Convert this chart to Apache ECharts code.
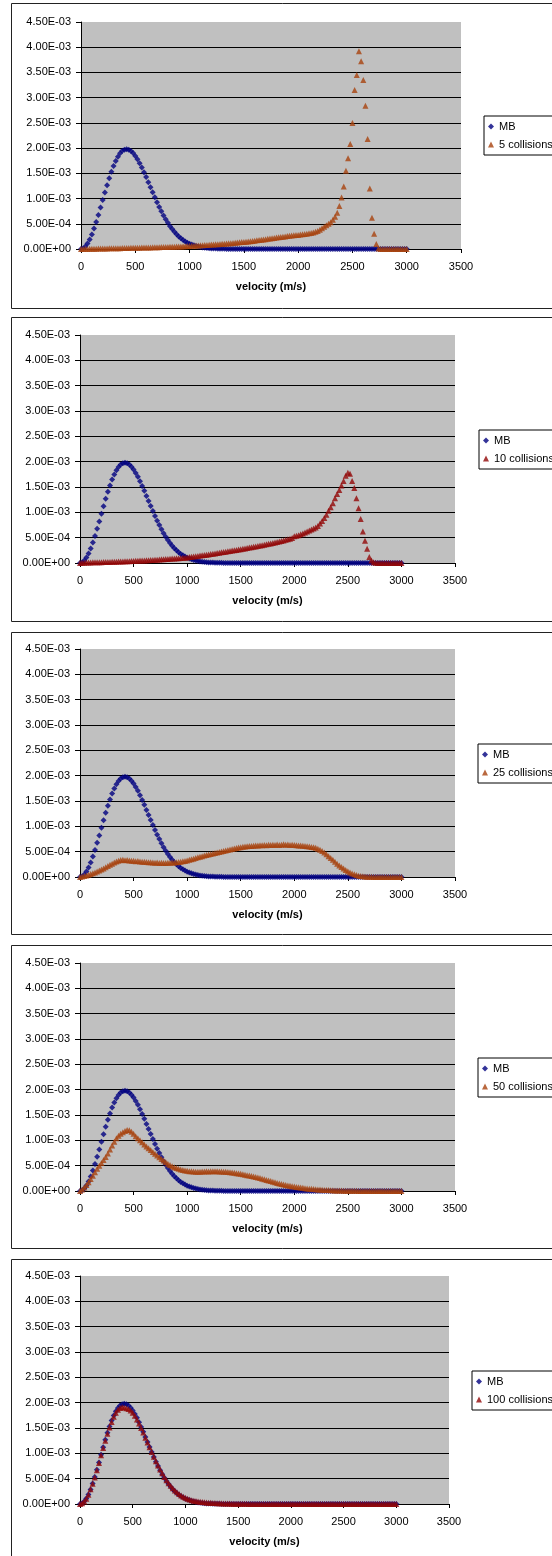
<!DOCTYPE html>
<html>
<head>
<meta charset="utf-8">
<script src="https://cdn.jsdelivr.net/npm/echarts@6/dist/echarts.min.js"></script>
<style>
  html, body { margin: 0; padding: 0; background: #fff; }
  #chart { width: 552px; height: 1556px; }
</style>
</head>
<body>
<div id="chart"></div>
<script>
// velocity (m/s)
var velocity = [
  0,20,40,60,80,100,120,140,160,180,
  200,220,240,260,280,300,320,340,360,380,
  400,420,440,460,480,500,520,540,560,580,
  600,620,640,660,680,700,720,740,760,780,
  800,820,840,860,880,900,920,940,960,980,
  1000,1020,1040,1060,1080,1100,1120,1140,1160,1180,
  1200,1220,1240,1260,1280,1300,1320,1340,1360,1380,
  1400,1420,1440,1460,1480,1500,1520,1540,1560,1580,
  1600,1620,1640,1660,1680,1700,1720,1740,1760,1780,
  1800,1820,1840,1860,1880,1900,1920,1940,1960,1980,
  2000,2020,2040,2060,2080,2100,2120,2140,2160,2180,
  2200,2220,2240,2260,2280,2300,2320,2340,2360,2380,
  2400,2420,2440,2460,2480,2500,2520,2540,2560,2580,
  2600,2620,2640,2660,2680,2700,2720,2740,2760,2780,
  2800,2820,2840,2860,2880,2900,2920,2940,2960,2980,
  3000
];

// all values below are in units of 1E-03
var mb = [
  0,0.012,0.048,0.107,0.188,0.288,0.404,0.534,0.675,0.821,
  0.971,1.121,1.266,1.405,1.531,1.646,1.746,1.830,1.897,1.946,
  1.968,1.977,1.968,1.942,1.901,1.846,1.778,1.701,1.614,1.522,
  1.425,1.324,1.224,1.123,1.024,0.928,0.835,0.749,0.666,0.589,
  0.518,0.453,0.394,0.340,0.293,0.250,0.213,0.180,0.151,0.126,
  0.105,0.087,0.072,0.059,0.048,0.039,0.031,0.025,0.020,0.016,
  0.012,0.010,0.008,0.006,0.005,0.004,0.003,0.002,0.002,0.001,
  0.001,0,0,0,0,0,0,0,0,0,
  0,0,0,0,0,0,0,0,0,0,
  0,0,0,0,0,0,0,0,0,0,
  0,0,0,0,0,0,0,0,0,0,
  0,0,0,0,0,0,0,0,0,0,
  0,0,0,0,0,0,0,0,0,0,
  0,0,0,0,0,0,0,0,0,0,
  0,0,0,0,0,0,0,0,0,0,
  0
];

var coll5 = [
  0,0.001,0.003,0.002,0.004,0.005,0.005,0.007,0.008,0.008,
  0.010,0.011,0.011,0.013,0.014,0.014,0.016,0.017,0.017,0.019,
  0.020,0.021,0.021,0.023,0.024,0.025,0.025,0.027,0.028,0.029,
  0.030,0.031,0.032,0.033,0.035,0.035,0.036,0.038,0.039,0.040,
  0.042,0.043,0.045,0.046,0.048,0.050,0.052,0.054,0.056,0.058,
  0.060,0.062,0.065,0.067,0.070,0.072,0.075,0.078,0.081,0.084,
  0.088,0.090,0.093,0.096,0.099,0.102,0.105,0.109,0.112,0.116,
  0.120,0.124,0.128,0.132,0.137,0.141,0.146,0.151,0.156,0.161,
  0.166,0.171,0.177,0.183,0.189,0.195,0.201,0.207,0.213,0.220,
  0.226,0.232,0.238,0.244,0.250,0.256,0.262,0.267,0.272,0.277,
  0.280,0.285,0.291,0.297,0.303,0.310,0.318,0.328,0.340,0.355,
  0.380,0.410,0.440,0.470,0.500,0.530,0.580,0.640,0.720,0.850,
  1.020,1.240,1.550,1.800,2.080,2.500,3.150,3.450,3.920,3.720,
  3.350,2.840,2.180,1.200,0.620,0.300,0.100,0.010,0,0,
  0,0,0,0,0,0,0,0,0,0,
  0
];

var coll10 = [
  0,0.003,0.006,0.008,0.010,0.012,0.013,0.014,0.015,0.016,
  0.017,0.018,0.019,0.021,0.022,0.024,0.025,0.027,0.028,0.030,
  0.031,0.033,0.035,0.037,0.039,0.041,0.043,0.045,0.047,0.049,
  0.051,0.053,0.056,0.058,0.061,0.063,0.066,0.069,0.072,0.075,
  0.078,0.081,0.084,0.087,0.090,0.093,0.096,0.099,0.102,0.106,
  0.110,0.116,0.122,0.128,0.134,0.140,0.146,0.152,0.158,0.164,
  0.170,0.176,0.182,0.189,0.196,0.203,0.210,0.217,0.224,0.231,
  0.238,0.245,0.252,0.259,0.266,0.273,0.280,0.288,0.296,0.304,
  0.312,0.320,0.328,0.336,0.344,0.352,0.360,0.369,0.378,0.387,
  0.396,0.405,0.415,0.425,0.435,0.446,0.457,0.469,0.481,0.494,
  0.530,0.540,0.550,0.565,0.580,0.600,0.620,0.640,0.660,0.680,
  0.700,0.730,0.780,0.830,0.890,0.950,1.030,1.100,1.180,1.280,
  1.360,1.440,1.530,1.620,1.720,1.780,1.760,1.620,1.480,1.280,
  1.080,0.870,0.620,0.440,0.280,0.120,0.050,0.015,0.005,0,
  0,0,0,0,0,0,0,0,0,0,
  0
];

var coll25 = [
  0,0.010,0.020,0.032,0.045,0.058,0.075,0.090,0.110,0.130,
  0.150,0.170,0.190,0.215,0.240,0.262,0.285,0.305,0.320,0.335,
  0.340,0.330,0.335,0.325,0.320,0.322,0.310,0.315,0.305,0.300,
  0.302,0.295,0.290,0.292,0.285,0.280,0.284,0.278,0.280,0.276,
  0.278,0.280,0.282,0.285,0.288,0.292,0.296,0.302,0.310,0.318,
  0.328,0.338,0.350,0.362,0.375,0.388,0.400,0.412,0.424,0.436,
  0.446,0.455,0.465,0.475,0.485,0.495,0.505,0.515,0.525,0.535,
  0.545,0.555,0.563,0.572,0.580,0.588,0.595,0.600,0.605,0.610,
  0.614,0.618,0.622,0.620,0.628,0.625,0.632,0.628,0.635,0.630,
  0.636,0.632,0.640,0.634,0.638,0.645,0.635,0.640,0.632,0.636,
  0.630,0.628,0.624,0.620,0.615,0.610,0.605,0.600,0.594,0.588,
  0.575,0.560,0.540,0.515,0.485,0.450,0.412,0.375,0.338,0.300,
  0.262,0.228,0.196,0.166,0.138,0.112,0.090,0.070,0.052,0.038,
  0.027,0.019,0.013,0.009,0.006,0.004,0.003,0.002,0.001,0.001,
  0.001,0,0,0,0,0,0,0,0,0,
  0
];

var coll50 = [
  0,0.030,0.070,0.120,0.175,0.235,0.300,0.370,0.440,0.500,
  0.555,0.610,0.670,0.740,0.820,0.900,0.970,1.040,1.090,1.130,
  1.160,1.185,1.205,1.200,1.170,1.130,1.080,1.040,1.000,0.960,
  0.920,0.880,0.845,0.810,0.770,0.735,0.700,0.665,0.630,0.600,
  0.570,0.540,0.515,0.490,0.470,0.452,0.438,0.425,0.415,0.405,
  0.398,0.392,0.388,0.384,0.382,0.380,0.382,0.385,0.384,0.388,
  0.386,0.390,0.388,0.391,0.389,0.387,0.385,0.382,0.378,0.374,
  0.370,0.365,0.358,0.352,0.345,0.338,0.330,0.322,0.313,0.304,
  0.295,0.285,0.275,0.265,0.255,0.243,0.231,0.219,0.207,0.195,
  0.183,0.171,0.160,0.150,0.140,0.130,0.120,0.111,0.103,0.095,
  0.088,0.081,0.074,0.068,0.062,0.056,0.051,0.046,0.042,0.038,
  0.034,0.031,0.028,0.025,0.022,0.020,0.018,0.016,0.014,0.012,
  0.010,0.009,0.008,0.007,0.006,0.005,0.004,0.004,0.003,0.003,
  0.002,0.002,0.002,0.001,0.001,0.001,0.001,0.001,0,0,
  0,0,0,0,0,0,0,0,0,0,
  0
];

var coll100 = [
  0,0.013,0.050,0.105,0.185,0.290,0.400,0.525,0.665,0.810,
  0.960,1.105,1.250,1.385,1.510,1.620,1.720,1.800,1.860,1.895,
  1.910,1.905,1.890,1.875,1.845,1.800,1.740,1.670,1.590,1.500,
  1.410,1.310,1.215,1.120,1.025,0.935,0.845,0.760,0.680,0.605,
  0.535,0.470,0.412,0.358,0.310,0.268,0.230,0.197,0.168,0.143,
  0.122,0.104,0.089,0.076,0.066,0.057,0.049,0.043,0.038,0.033,
  0.029,0.026,0.023,0.020,0.018,0.016,0.014,0.013,0.011,0.010,
  0.009,0.008,0.007,0.006,0.006,0.005,0.004,0.004,0.003,0.003,
  0.002,0.002,0.002,0.001,0.001,0.001,0.001,0,0,0,
  0,0,0,0,0,0,0,0,0,0,
  0,0,0,0,0,0,0,0,0,0,
  0,0,0,0,0,0,0,0,0,0,
  0,0,0,0,0,0,0,0,0,0,
  0,0,0,0,0,0,0,0,0,0,
  0,0,0,0,0,0,0,0,0,0,
  0
];

var collNames = ['5 collisions', '10 collisions', '25 collisions', '50 collisions', '100 collisions'];
var collValues = [coll5, coll10, coll25, coll50, coll100];
var velTicks = [0, 500, 1000, 1500, 2000, 2500, 3000, 3500];

// layout of each panel (plot area, legend, outer frame)
var layout = [
  { grid: [81, 22, 380, 227],   legend: [484, 116],  frame: [3, 305],   color: '#A8420E' },
  { grid: [80, 335, 375, 228],  legend: [479, 430],  frame: [317, 304], color: '#920808' },
  { grid: [80, 649, 375, 228],  legend: [478, 744],  frame: [632, 302], color: '#A8420E' },
  { grid: [80, 963, 375, 228],  legend: [478, 1058], frame: [945, 303], color: '#A8420E' },
  { grid: [80, 1276, 369, 228], legend: [472, 1371], frame: [1259, 320], color: '#920808' }
];

var FONT = '"Liberation Sans", Arial, sans-serif';

function sciLabel(v) {
  if (Math.abs(v) < 1e-12) return '0.00E+00';
  var s = v.toExponential(2).split('e');
  var e = parseInt(s[1], 10);
  var a = Math.abs(e);
  return s[0] + 'E' + (e < 0 ? '-' : '+') + (a < 10 ? '0' : '') + a;
}

function toPoints(vals) {
  return velocity.map(function (v, k) { return [v, vals[k] * 1e-3]; });
}

var grids = [], xAxes = [], yAxes = [], series = [], legends = [], frames = [];

layout.forEach(function (p, i) {
  grids.push({
    left: p.grid[0], top: p.grid[1], width: p.grid[2], height: p.grid[3],
    show: true, backgroundColor: '#C0C0C0', borderWidth: 0
  });
  xAxes.push({
    gridIndex: i, type: 'value', min: velTicks[0], max: velTicks[velTicks.length - 1], interval: 500,
    name: 'velocity (m/s)', nameLocation: 'middle', nameGap: 32,
    nameTextStyle: { color: '#000', fontSize: 11, fontWeight: 'bold', fontFamily: FONT },
    axisLine: { show: true, onZero: false, lineStyle: { color: '#000', width: 1 } },
    axisTick: { show: true, length: 4, lineStyle: { color: '#000' } },
    axisLabel: { color: '#000', fontSize: 11, fontFamily: FONT, margin: 12,
      formatter: function (v) { return String(v); } },
    splitLine: { show: false }
  });
  yAxes.push({
    gridIndex: i, type: 'value', min: 0, max: 0.0045, interval: 0.0005,
    axisLine: { show: true, lineStyle: { color: '#000', width: 1 } },
    axisTick: { show: true, length: 5, lineStyle: { color: '#000' } },
    axisLabel: { color: '#000', fontSize: 11, fontFamily: FONT, margin: 10, formatter: sciLabel },
    splitLine: { show: true, showMinLine: false, showMaxLine: false, lineStyle: { color: '#000', width: 1 } }
  });
  series.push({
    type: 'scatter', name: 'MB', xAxisIndex: i, yAxisIndex: i,
    symbol: 'diamond', symbolSize: 6, itemStyle: { color: '#000080' },
    data: toPoints(mb)
  });
  series.push({
    type: 'scatter', name: collNames[i], xAxisIndex: i, yAxisIndex: i,
    symbol: 'triangle', symbolSize: 6, itemStyle: { color: p.color },
    data: toPoints(collValues[i])
  });
  legends.push({
    orient: 'vertical', left: p.legend[0], top: p.legend[1],
    data: [{ name: 'MB', icon: 'diamond' }, { name: collNames[i], icon: 'triangle' }],
    itemWidth: 6, itemHeight: 6, itemGap: 7,
    padding: [5, 40, 5, 4],
    borderColor: '#000', borderWidth: 1, backgroundColor: '#fff',
    selectedMode: false,
    textStyle: { color: '#000', fontSize: 11, fontFamily: FONT }
  });
  frames.push({
    type: 'rect', silent: true, z: -10,
    shape: { x: 11.5, y: p.frame[0] + 0.5, width: 580, height: p.frame[1] },
    style: { fill: 'none', stroke: '#222', lineWidth: 1 }
  });
});

var chart = echarts.init(document.getElementById('chart'));
chart.setOption({
  animation: false,
  backgroundColor: '#fff',
  textStyle: { fontFamily: FONT },
  grid: grids,
  xAxis: xAxes,
  yAxis: yAxes,
  legend: legends,
  graphic: frames,
  series: series
});
</script>
</body>
</html>
